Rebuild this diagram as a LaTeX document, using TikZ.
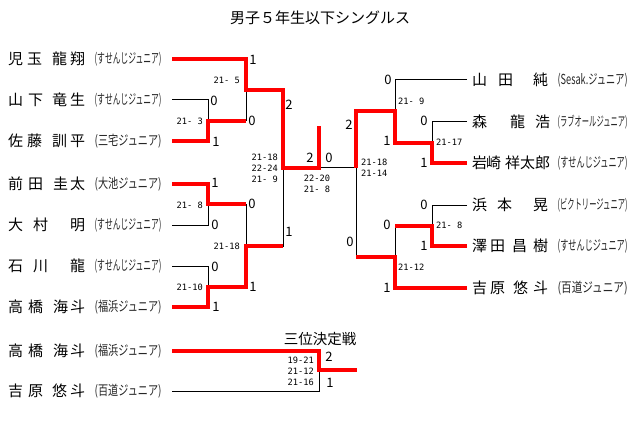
\documentclass[tikz,border=0pt]{standalone}
\usepackage{fontspec}
\setmainfont{Noto Sans CJK JP}
\newfontfamily\scorefont{DejaVu Sans Mono}
\usepackage{graphicx}
\usetikzlibrary{positioning}

\newcommand\nm[1]{\makebox[78pt][l]{\foreach \dx/\chr in #1 {\makebox[0pt][l]{\hspace{\dx pt}\chr}}}}
\newcommand\aff[2]{\resizebox*{#1pt}{14pt}{(#2)}}

\begin{document}
\begin{tikzpicture}[x=1pt,y=-1pt,
    nmbox/.style={anchor=west,inner sep=0pt,font=\fontsize{15}{15}\selectfont},
    affbox/.style={inner sep=0pt,text=black!85},
    lose/.style={line width=1pt},
    win/.style={red,line width=3.5pt},
    pts/.style={inner sep=0pt,font=\fontsize{13}{13}\selectfont},
    score/.style={inner sep=0pt,align=right,font=\scorefont\fontsize{8.7}{11}\selectfont}]

    \useasboundingbox (0,0) rectangle (640,433);

    \node[font=\fontsize{15}{15}\selectfont] (title) at (320,18) {男子５年生以下シングルス};

    % left half
    \foreach \p/\y/\n/\f in {a1/59/{0/児,19/玉,44/龍,62/翔}/すせんじジュニア,
                             a2/100/{0/山,20/下,44/竜,62/生}/すせんじジュニア,
                             a3/141/{0/佐,19/藤,44/訓,62/平}/三宅ジュニア,
                             a4/184/{0/前,20/田,45/圭,62/太}/大池ジュニア,
                             a5/225/{0/大,25/村,62/明}/すせんじジュニア,
                             a6/266/{0/石,25/川,62/龍}/すせんじジュニア,
                             a7/307/{0/高,20/橋,45/海,62/斗}/福浜ジュニア,
                             t1/351/{0/高,20/橋,45/海,62/斗}/福浜ジュニア,
                             t2/391/{0/吉,20/原,44/悠,62/斗}/百道ジュニア} {
        \node[nmbox] (\p) at (8,\y) {\nm{\n}};
        \node[affbox,right=8pt of \p] (\p f) {\aff{67}{\f}};
        \coordinate (\p e) at (172,\y);
    }

    % right half
    \foreach \p/\y/\n/\f in {b1/80/{0/山,26/田,61/純}/Sesak.ジュニア,
                             b2/122/{0/森,38/龍,63/浩}/ラブオールジュニア,
                             b3/163/{0/岩,14/崎,33/祥,48/太,63/郎}/すせんじジュニア,
                             b4/205/{0/浜,25/本,61/晃}/ビクトリージュニア,
                             b5/246/{0/澤,18/田,40/昌,61/樹}/すせんじジュニア,
                             b6/288/{0/吉,18/原,41/悠,61/斗}/百道ジュニア} {
        \node[nmbox] (\p) at (472,\y) {\nm{\n}};
        \node[affbox,right=7pt of \p] (\p f) {\aff{70}{\f}};
        \coordinate (\p e) at (467,\y);
    }

    % match points
    \coordinate (mA) at (208,121);
    \coordinate (mB) at (246,90);
    \coordinate (mC) at (208,204);
    \coordinate (mD) at (208,287);
    \coordinate (mE) at (246,246);
    \coordinate (mS) at (283,168);
    \coordinate (fin) at (319,168);
    \coordinate (champ) at (319,126);
    \coordinate (mT) at (356,168);
    \coordinate (mG) at (432,143);
    \coordinate (mH) at (395,111);
    \coordinate (mI) at (432,226);
    \coordinate (mJ) at (395,257);
    \coordinate (mK) at (319,370);
    \coordinate (bronze) at (357,370);

    % bracket
    \draw[lose] (a1e) -| (mB) (a2e) -| (mA) (a3e) -| (mA) (mA) -| (mB) (mB) -| (mS)
                (a4e) -| (mC) (a5e) -| (mC) (a6e) -| (mD) (a7e) -| (mD)
                (mC) -| (mE) (mD) -| (mE) (mE) -| (mS) (mS) -- (mT);
    \draw[lose] (b1e) -| (mH) (b2e) -| (mG) (b3e) -| (mG) (mG) -| (mH)
                (b4e) -| (mI) (b5e) -| (mI) (b6e) -| (mJ) (mI) -| (mJ)
                (mH) -| (mT) (mJ) -| (mT);
    \draw[lose] (t1e) -| (mK) (t2e) -| (mK);

    % winners
    \draw[win] (a1e) -| (mB) -| (mS) -- (fin) -- (champ);
    \draw[win] (a3e) -| (mA) -- (mA -| mB);
    \draw[win] (a4e) -| (mC) -- (mC -| mE);
    \draw[win] (a7e) -| (mD) -| (mE) -- (mE -| mS);
    \draw[win] (b3e) -| (mG) -| (mH) -| (mT);
    \draw[win] (b5e) -| (mI) -- (mI -| mJ);
    \draw[win] (b6e) -| (mJ) -- (mJ -| mT);
    \draw[win] (t1e) -| (mK) -- (bronze);

    % games won
    \foreach \i/\x/\y/\t in {1/253/60/1, 2/214/101/0, 3/252/121/0, 4/216/142/1,
                             5/289/105/2, 6/215/183/1, 7/252/204/0, 8/215/225/0,
                             9/289/232/1, 10/215/267/0, 11/253/287/1, 12/216/307/1,
                             13/310/158/2, 14/329/158/0, 15/349/125/2, 16/350/242/0,
                             17/388/80/0, 18/387/141/1, 19/424/121/0, 20/424/163/1,
                             21/424/205/0, 22/424/246/1, 23/387/225/0, 24/387/288/1,
                             25/329/357/2, 26/330/383/1}
        \node[pts] (r\i) at (\x,\y) {\t};

    % scores
    \foreach \i/\a/\x/\y/\t in {1/east/240/80/{21- 5}, 2/east/203/121/{21- 3},
                                3/east/203/205/{21- 8}, 4/east/203/287/{21-10},
                                5/east/240/246/{21-18}, 6/east/278/168/{21-18\\22-24\\21- 9},
                                7/center/317/184/{22-20\\21- 8}, 8/west/361/168/{21-18\\21-14},
                                9/west/398/101/{21- 9}, 10/west/436/142/{21-17},
                                11/west/436/225/{21- 8}, 12/west/398/267/{21-12},
                                13/east/314/371/{19-21\\21-12\\21-16}}
        \node[score,anchor=\a] (s\i) at (\x,\y) {\t};

    \node[font=\fontsize{14.5}{14.5}\selectfont] (thirdtitle) at (320,339) {三位決定戦};
\end{tikzpicture}
\end{document}
